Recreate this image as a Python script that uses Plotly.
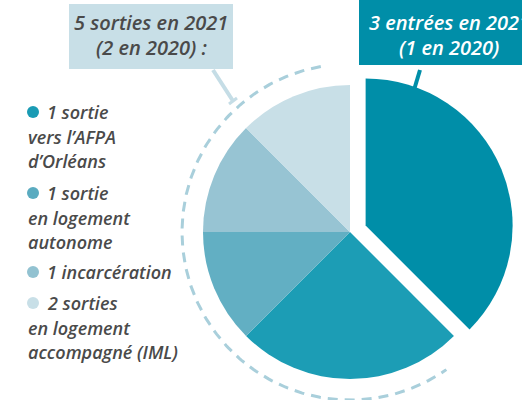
import numpy as np
import plotly.graph_objects as go

W, H = 522, 400

# ---- data ----
labels = ["3 entrées en 2021", "1 sortie vers l'AFPA d'Orléans",
          "1 sortie en logement autonome", "1 incarcération",
          "2 sorties en logement accompagné (IML)"]
values = [3, 2, 1, 1, 1]
colors = ["#008ea8", "#1c9db5", "#62afc3", "#97c4d3", "#c8dfe7"]
pulls = [0.115, 0, 0, 0, 0]

legend_lines = [
    ["1 sortie", "vers l’AFPA", "d’Orléans"],
    ["1 sortie", "en logement", "autonome"],
    ["1 incarcération"],
    ["2 sorties", "en logement", "accompagné (IML)"],
]
legend_dot_colors = ["#1a9bb4", "#5aabc0", "#92c2d1", "#c8dfe7"]
legend_y = [112, 193, 272, 303]

sorties_title = ["5 sorties en 2021", "(2 en 2020) :"]
entrees_title = ["3 entrées en 2021", "(1 en 2020)"]

TXT = "#4a4a4a"
FONT = "Open Sans"

fig = go.Figure()

# pie
cx, cy, r = 350, 232, 147
S = 2 * r * (1 + max(pulls))
fig.add_trace(go.Pie(
    values=values, labels=labels, sort=False, direction="clockwise", rotation=0,
    pull=pulls, marker=dict(colors=colors, line=dict(width=0)),
    textinfo="none", hoverinfo="label", showlegend=False,
    domain=dict(x=[(cx - S / 2) / W, (cx + S / 2) / W],
                y=[(H - cy - S / 2) / H, (H - cy + S / 2) / H]),
))

# dashed arc around the sorties
R = 168
th = np.radians(np.linspace(-10, -215, 200))
fig.add_trace(go.Scatter(
    x=cx + R * np.sin(th), y=cy - R * np.cos(th), mode="lines",
    line=dict(color="#a9cfdb", width=3, dash="10px,7px"),
    hoverinfo="skip", showlegend=False,
))

shapes = []
# title boxes
shapes.append(dict(type="rect", xref="x", yref="y", x0=69, y0=4, x1=233, y1=69,
                   fillcolor="#c8dfe7", line=dict(width=0), layer="below"))
shapes.append(dict(type="rect", xref="x", yref="y", x0=359, y0=0, x1=540, y1=65,
                   fillcolor="#008ea8", line=dict(width=0), layer="below"))
# connectors
shapes.append(dict(type="line", xref="x", yref="y", x0=213, y0=70, x1=233, y1=101,
                   line=dict(color="#c5dde6", width=4)))
shapes.append(dict(type="line", xref="x", yref="y", x0=229, y0=104, x1=237, y1=98,
                   line=dict(color="#c5dde6", width=3)))
shapes.append(dict(type="line", xref="x", yref="y", x0=420, y0=70, x1=414, y1=90,
                   line=dict(color="#008ea8", width=4)))
# legend dots
for c, yy in zip(legend_dot_colors, legend_y):
    shapes.append(dict(type="circle", xref="x", yref="y", x0=27, y0=yy - 6,
                       x1=39, y1=yy + 6, fillcolor=c, line=dict(width=0)))

annotations = []
def txt(x, y, s, color=TXT, anchor="center", size=18):
    annotations.append(dict(x=x, y=y, xref="x", yref="y", text=s, showarrow=False,
                            xanchor=anchor, yanchor="middle",
                            font=dict(family=FONT, size=size, color=color,
                                      style="italic", weight=600)))

txt(151, 22, sorties_title[0], size=20)
txt(151, 47, sorties_title[1], size=20)
txt(449, 22, entrees_title[0], color="white", size=20)
txt(449, 47, entrees_title[1], color="white", size=20)

for lines, yy in zip(legend_lines, legend_y):
    for i, s in enumerate(lines):
        if i == 0:
            txt(45, yy, s, anchor="left")
        else:
            txt(26, yy + 24.5 * i, s, anchor="left")

fig.update_layout(
    width=W, height=H, margin=dict(l=0, r=0, t=0, b=0),
    paper_bgcolor="white", plot_bgcolor="rgba(0,0,0,0)",
    xaxis=dict(range=[0, W], visible=False, fixedrange=True, domain=[0, 1]),
    yaxis=dict(range=[H, 0], visible=False, fixedrange=True, domain=[0, 1]),
    shapes=shapes, annotations=annotations, showlegend=False,
)

fig.write_html("out.html", config={"displayModeBar": False},
               post_script="document.body.style.margin='0px';")
